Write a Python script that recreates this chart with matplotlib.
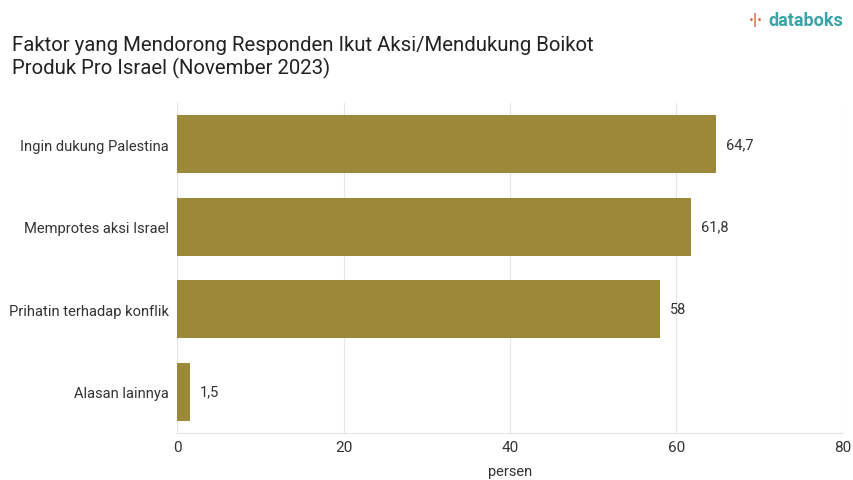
import matplotlib
matplotlib.use("Agg")
from matplotlib import pyplot as plt

plt.rcParams['font.family'] = ['Roboto', 'DejaVu Sans']

# data
categories = ['Ingin dukung Palestina', 'Memprotes aksi Israel',
              'Prihatin terhadap konflik', 'Alasan lainnya']
values = [64.7, 61.8, 58, 1.5]
value_labels = ['64,7', '61,8', '58', '1,5']
xticks = [0, 20, 40, 60, 80]

bar_color = '#9b8939'

fig = plt.figure(figsize=(8.54, 4.81), dpi=100)
ax = fig.add_axes([0.2073, 0.0977, 0.7797, 0.6861])

ypos = list(range(len(categories)))
ax.barh(ypos, values, height=0.7, color=bar_color, zorder=3)
for y, v, lab in zip(ypos, values, value_labels):
    ax.text(v + 1.2, y, lab, va='center', ha='left', fontsize=10.5, color='#333333')

ax.set_xlim(0, 80)
ax.set_ylim(3.5, -0.5)
ax.set_yticks(ypos)
ax.set_yticklabels(categories, fontsize=10.6, color='#333333')
ax.set_xticks(xticks)
ax.set_xticklabels([str(t) for t in xticks], fontsize=11, color='#333333')
ax.tick_params(length=0, pad=6)
ax.tick_params(axis='x', pad=5)
ax.grid(axis='x', color='#e6e6e6', linewidth=0.8, zorder=0)
for s in ['top', 'right']:
    ax.spines[s].set_visible(False)
ax.spines['left'].set_color('#e6e6e6')
ax.spines['bottom'].set_color('#e6e6e6')
ax.set_xlabel('persen', fontsize=10.5, color='#333333', labelpad=7)

fig.text(0.014, 0.905, 'Faktor yang Mendorong Responden Ikut Aksi/Mendukung Boikot',
         fontsize=14.7, color='#222222', va='center', ha='left')
fig.text(0.014, 0.858, 'Produk Pro Israel (November 2023)',
         fontsize=14.7, color='#222222', va='center', ha='left')

# logo
fig.text(0.987, 0.957, 'databoks', fontsize=13, color='#3aa3a6', fontweight='bold',
         ha='right', va='center')
fig.text(0.893, 0.957, '\u00b7|\u00b7', fontsize=12, color='#e2603f', fontweight='bold',
         ha='right', va='center')

fig.savefig('out.png', dpi=100)
